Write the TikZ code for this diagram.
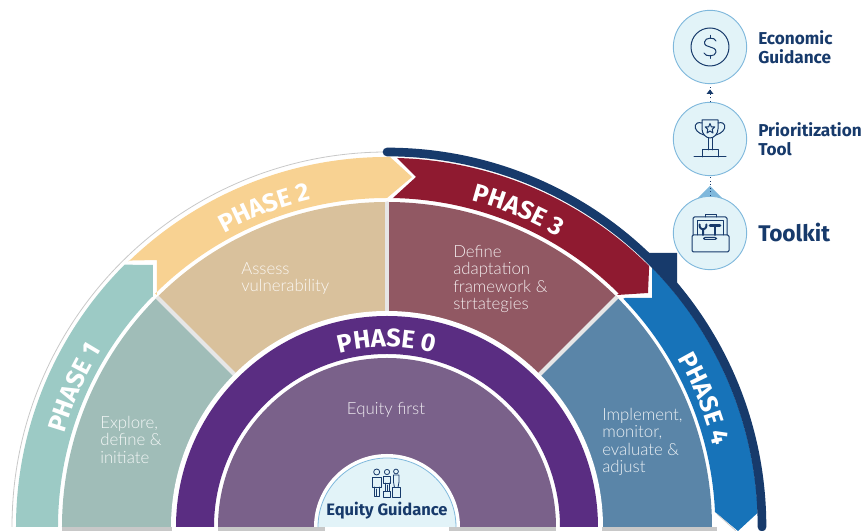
\documentclass[tikz,border=0pt]{standalone}
\usepackage{fontspec}
\usetikzlibrary{decorations.text,arrows.meta}
\newfontfamily\headf{Fira Sans}
\newfontfamily\bodyf{Lato Light}
\definecolor{navy}{HTML}{173A6B}
\definecolor{tealband}{HTML}{9CCAC5}
\definecolor{yellowband}{HTML}{F8D292}
\definecolor{redband}{HTML}{8F1A30}
\definecolor{blueband}{HTML}{1773B9}
\definecolor{secA}{HTML}{A0BDB8}
\definecolor{secB}{HTML}{D9C19C}
\definecolor{secC}{HTML}{915863}
\definecolor{secD}{HTML}{5A85A8}
\definecolor{purp}{HTML}{5A2D82}
\definecolor{purpin}{HTML}{7A618A}
\definecolor{pale}{HTML}{E2F3F8}
\definecolor{paleline}{HTML}{7FB8DC}
\definecolor{sep}{HTML}{E6E6E6}
\definecolor{strip}{HTML}{C8C8C8}
\newcommand{\phasef}{\headf\bfseries\fontsize{19}{19}\selectfont\color{white}}
\tikzset{
  secttext/.style={font=\bodyf\fontsize{12.6}{13.1}\selectfont,align=left,anchor=north west,inner sep=0pt,text=white,text opacity=0.88},
  sidetext/.style={font=\headf\bfseries\fontsize{12.9}{14}\selectfont,text=navy,align=left,anchor=west,inner sep=0pt},
  bubble/.style={circle,draw=paleline,fill=pale,line width=0.7pt,minimum size=55pt,inner sep=0pt},
  icon/.style={draw=navy,line width=0.75pt,line join=round,line cap=round},
  sepline/.style={draw=sep,line width=3pt},
  phasepath/.style={decorate,decoration={text along path,text align={align=center},text={|\phasef|#1}}}
}
\begin{document}
\begin{tikzpicture}[x=0.75pt,y=0.75pt]
\useasboundingbox (-387,-4) rectangle (478,527);
% grey outer line
\draw[strip,line width=0.6pt] (180:375) arc[start angle=180,end angle=90,radius=375];
% sectors
\fill[secA] (0,0) -- (180:325) arc[start angle=180,end angle=135,radius=325] -- cycle;
\fill[secB] (0,0) -- (135:325) arc[start angle=135,end angle=90,radius=325] -- cycle;
\fill[secC] (0,0) -- (90:325) arc[start angle=90,end angle=45,radius=325] -- cycle;
\fill[secD] (0,0) -- (45:325) arc[start angle=45,end angle=0,radius=325] -- cycle;
\draw[sepline] (135:212) -- (135:325);
\draw[sepline] (90:212) -- (90:325);
\draw[sepline] (45:212) -- (45:325);
% bottom strip
\fill[strip] (-325,0) rectangle (330,-4);
\fill[white] (-215,0) rectangle (-169,-4);
\fill[white] (169,0) rectangle (215,-4);
\fill[white] (-62,0) rectangle (62,-4);
% bands
\fill[tealband] (-329,0) -- (-371,0) arc[start angle=180,end angle=135,radius=371] -- (-234,262) -- (-234,230) -- (135.5:329) arc[start angle=135.5,end angle=180,radius=329] -- cycle;
\fill[yellowband] (134.1:371) -- (-230,267) -- (-230,232) -- (134.8:329) arc[start angle=134.8,end angle=90,radius=329] -- (25,350) -- (3,370) arc[start angle=89.5,end angle=134.1,radius=371] -- cycle;
\fill[navy] (261,266) -- (261,274) -- (290,274) -- (290,244) -- cycle;
\fill[blueband] (238,229) -- (265,229) -- (265,262) -- (44.7:371) arc[start angle=44.7,end angle=2.2,radius=371] -- (351,-4) -- (328,15) arc[start angle=2.6,end angle=43.9,radius=329] -- cycle;
\draw[strip,line width=0.5pt] (330,13) -- (349,-4);
\fill[redband] (6,329) -- (29,350) -- (10,369) arc[start angle=88.5,end angle=45.1,radius=371] -- (261,234) -- (230,232) -- (45.2:329) arc[start angle=45.2,end angle=89,radius=329] -- cycle;
\draw[navy,line width=6.5pt,line cap=round] (90:375) arc[start angle=90,end angle=0,radius=375];
% phase 0
\fill[white] (-216,0) arc[start angle=180,end angle=0,radius=216] -- cycle;
\fill[purp] (-211,0) arc[start angle=180,end angle=0,radius=211] -- (173,0) arc[start angle=0,end angle=180,radius=173] -- cycle;
\fill[purpin] (-169,0) arc[start angle=180,end angle=0,radius=169] -- cycle;
\fill[white] (-73,0) arc[start angle=180,end angle=0,radius=73] -- cycle;
\fill[pale] (-69,0) arc[start angle=180,end angle=0,radius=69] -- cycle;
\draw[paleline,line width=0.6pt] (-69,0) arc[start angle=180,end angle=0,radius=69];
\fill[white] (-62,0) rectangle (62,-4);
% curved titles
\path[phasepath=PHASE 1] (172:336) arc[start angle=172,end angle=140,radius=336];
\path[phasepath=PHASE 2] (128:336) arc[start angle=128,end angle=94,radius=336];
\path[phasepath=PHASE 3] (85:337) arc[start angle=85,end angle=50,radius=337];
\path[phasepath=PHASE 4] (40:336) arc[start angle=40,end angle=4,radius=336];
\path[phasepath=PHASE 0] (112:180) arc[start angle=112,end angle=68,radius=180];
% pixel coordinates for text and icons
\begin{scope}[shift={(-387,527)},y=-0.75pt]
\node[secttext] (t1) at (100,416) {Explore,\\define \&\\initiate};
\node[secttext] (t2) at (241,262) {Assess\\vulnerability};
\node[secttext] (t3) at (453,245) {Define\\adaptation\\framework \&\\strtategies};
\node[secttext] (t4) at (602,408) {Implement,\\monitor,\\evaluate \&\\adjust};
\node[font=\bodyf\fontsize{12.6}{13.1}\selectfont,text=white,text opacity=0.88,inner sep=0pt] (t0) at (386,410) {Equity first};
\node[font=\headf\bfseries\fontsize{12.4}{14}\selectfont,text=navy,inner sep=0pt] (eq) at (387,511) {Equity Guidance};
% connectors and bubbles
\node[bubble] (econ) at (710,47) {};
\node[bubble] (prio) at (710,139) {};
\fill[paleline] (710,186) -- (697,199) -- (723,199) -- cycle;
\node[bubble] (tool) at (710,233) {};
\draw[navy,line width=0.7pt,dotted] (prio) -- (econ);
\draw[navy,line width=0.7pt,dotted] (tool) -- (prio);
\fill[navy] (710,89.5) -- (706.5,94) -- (713.5,94) -- cycle;
\node[sidetext] (lecon) at (758,47.5) {Economic\\Guidance};
\node[sidetext] (lprio) at (758,139.5) {Prioritization\\Tool};
\node[sidetext,font=\headf\bfseries\fontsize{17}{19}\selectfont] (ltool) at (758,233) {Toolkit};
% dollar icon
\draw[icon] (710,47) circle[radius=19];
\draw[icon] (716,41) .. controls (715,37) and (705,37) .. (704.5,42) .. controls (704,49) and (716,45) .. (716,52) .. controls (716,57) and (705,57) .. (704,53);
\draw[icon] (710,35.5) -- (710,38.5) (710,55.5) -- (710,58.5);
% trophy icon
\draw[icon] (702,120) -- (718,120) -- (718,129) .. controls (718,134) and (714,138) .. (710,138) .. controls (706,138) and (702,134) .. (702,129) -- cycle;
\draw[icon] (702,123) .. controls (694,121) and (694,128) .. (697,131) .. controls (699,133) and (701,134) .. (704,135);
\draw[icon] (718,123) .. controls (726,121) and (726,128) .. (723,131) .. controls (721,133) and (719,134) .. (716,135);
\draw[icon] (708,138) -- (708,150) (712,138) -- (712,150);
\draw[icon] (702,157) -- (702,150) -- (718,150) -- (718,157);
\draw[icon] (694,157) -- (726,157);
\draw[icon] (710,123.5) -- (711.4,127) -- (714.8,127) -- (712.2,129.3) -- (713,133) -- (710,131) -- (707,133) -- (707.8,129.3) -- (705.2,127) -- (708.6,127) -- cycle;
% toolbox icon
\draw[icon,rounded corners=1pt] (692,235) rectangle (729,252);
\draw[icon,rounded corners=1pt] (693,235) -- (693,217) -- (727,217) -- (727,235);
\draw[icon] (697,235) -- (697,220.5) -- (723,220.5) -- (723,235);
\draw[icon] (705,217) -- (705,214.5) -- (716,214.5) -- (716,217);
\draw[icon,rounded corners=1pt] (703.5,237.5) rectangle (716.5,239.5);
\draw[icon,line width=1.5pt] (699.5,224.5) .. controls (699.5,228) and (701,229) .. (703,229.5) -- (703,235);
\draw[icon,line width=1.5pt] (706.5,224.5) .. controls (706.5,228) and (705,229) .. (703,229.5);
\draw[icon,line width=2pt] (710,225.5) -- (720,225.5);
\draw[icon,line width=1.5pt] (715,225.5) -- (715,235);
% people icon
\draw[icon,line width=0.6pt] (376.7,472) circle[radius=3];
\draw[icon,line width=0.6pt] (372.5,487) -- (372.5,477) -- (381,477) -- (381,487) -- cycle;
\draw[icon,line width=0.6pt] (374.5,487) -- (374.5,496.5) -- (376.5,496.5) -- (376.5,489) (376.8,489) -- (376.8,496.5) -- (379,496.5) -- (379,487);
\draw[icon,line width=0.6pt] (387,472) circle[radius=2.6];
\draw[icon,line width=0.6pt] (383.5,483) -- (383.5,476) -- (390.5,476) -- (390.5,483) -- cycle;
\draw[icon,line width=0.6pt] (385,483) -- (385,491.5) (389,483) -- (389,491.5) (387,485) -- (387,491.5);
\draw[icon,line width=0.6pt] (383.5,491.5) rectangle (390.5,497);
\draw[icon,line width=0.6pt] (396,471.5) circle[radius=2.4];
\draw[icon,line width=0.6pt] (393.5,482) -- (393.5,475) -- (399,475) -- (399,482) -- (398,487.5) -- (394.5,487.5) -- cycle;
\draw[icon,line width=0.6pt] (392.5,487.5) rectangle (400,497);
\end{scope}
\end{tikzpicture}
\end{document}
